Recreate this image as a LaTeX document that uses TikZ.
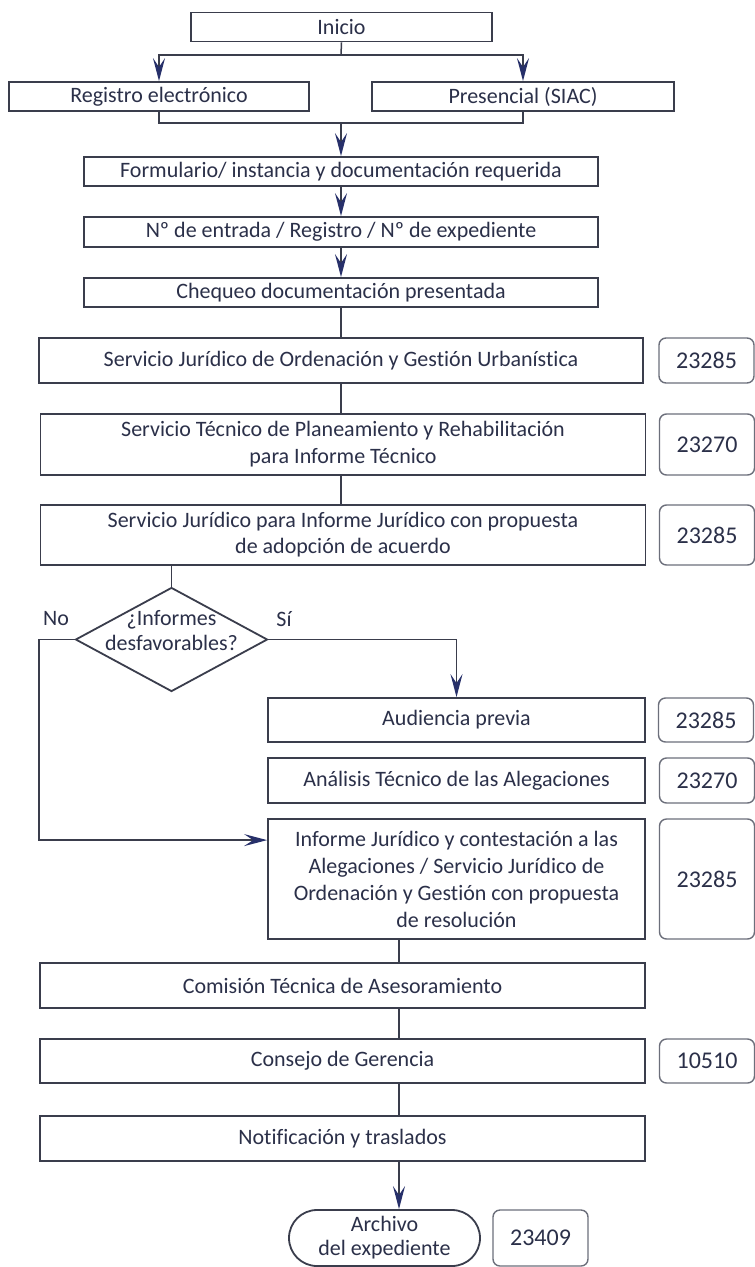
\documentclass[tikz,border=0pt]{standalone}
\usepackage{fontspec}
\setmainfont{Carlito}[Ligatures={NoCommon}]
\usetikzlibrary{arrows.meta,shapes.geometric,shapes.misc,calc}
\definecolor{ink}{HTML}{2B3049}
\definecolor{frame}{HTML}{3A3D4C}
\definecolor{tagframe}{HTML}{6C6F7B}
\definecolor{tipc}{HTML}{27306A}
\begin{document}
\begin{tikzpicture}[x=1pt,y=-1pt,
  every node/.style={font=\fontsize{22}{26}\selectfont, text=ink},
  box/.style={draw=frame, line width=1.8pt, inner sep=0pt, align=center},
  tag/.style={draw=tagframe, line width=1.4pt, rounded corners=7pt, inner sep=0pt, minimum width=95pt, font=\fontsize{24}{28}\selectfont},
  link/.style={draw=frame, line width=1.5pt},
  flow/.style={link, -{Stealth[length=23pt,width=12pt,inset=9pt,color=tipc]}},
]
\fill[white] (0,0) rectangle (755,1267);
\useasboundingbox (0,0) rectangle (755,1267);

% process boxes
\node[box, minimum width=301pt, minimum height=29pt] (inicio) at (341.5,27) {Inicio};
\node[box, minimum width=300pt, minimum height=29pt] (reg) at (159,96.5) {Registro electrónico};
\node[box, minimum width=302pt, minimum height=29pt] (pres) at (523,96.5) {Presencial (SIAC)};
\node[box, minimum width=514pt, minimum height=29pt] (form) at (341,171.5) {Formulario/ instancia y documentación requerida};
\node[box, minimum width=514pt, minimum height=30pt] (num) at (341,232) {Nº de entrada / Registro / Nº de expediente};
\node[box, minimum width=514pt, minimum height=29pt] (cheq) at (341,292.5) {Chequeo documentación presentada};
\node[box, minimum width=604pt, minimum height=45pt] (sj) at (341,360.5) {Servicio Jurídico de Ordenación y Gestión Urbanística};
\node[box, minimum width=605pt, minimum height=61pt, font=\fontsize{22}{27}\selectfont] (st) at (343,444.5) {Servicio Técnico de Planeamiento y Rehabilitación\\para Informe Técnico};
\node[box, minimum width=605pt, minimum height=60pt] (sjp) at (343,535) {Servicio Jurídico para Informe Jurídico con propuesta\\de adopción de acuerdo};
\node[box, minimum width=377pt, minimum height=44pt] (aud) at (456.5,720) {Audiencia previa};
\node[box, minimum width=377pt, minimum height=45pt] (anal) at (456.5,780.5) {Análisis Técnico de las Alegaciones};
\node[box, minimum width=377pt, minimum height=120pt, font=\fontsize{22}{27}\selectfont] (inf) at (456.5,879) {Informe Jurídico y contestación a las\\Alegaciones / Servicio Jurídico de\\Ordenación y Gestión con propuesta\\de resolución};
\node[box, minimum width=605pt, minimum height=45pt] (com) at (342.5,985.5) {Comisión Técnica de Asesoramiento};
\node[box, minimum width=605pt, minimum height=44pt] (cons) at (342.5,1061) {Consejo de Gerencia};
\node[box, minimum width=605pt, minimum height=45pt] (noti) at (342.5,1138.5) {Notificación y traslados};
\node[box, rounded rectangle, minimum width=191pt, minimum height=56pt, font=\fontsize{22}{24}\selectfont] (arch) at (384.5,1238) {Archivo\\del expediente};

% decision
\node[draw=frame, line width=1.8pt, diamond, minimum width=192pt, minimum height=104pt, inner sep=0pt] (dec) at (171.5,639.5) {};
\node[align=center, font=\fontsize{22}{25}\selectfont] (dectext) at (171.5,631) {¿Informes\\desfavorables?};
\node (no) at (56,619) {No};
\node (si) at (284,619) {Sí};

% department codes
\node[tag, minimum height=45pt] (t1) at (706.5,360.5) {23285};
\node[tag, minimum height=61pt] (t2) at (707,444.5) {23270};
\node[tag, minimum height=60pt] (t3) at (707,535) {23285};
\node[tag, minimum height=44pt] (t4) at (706,720) {23285};
\node[tag, minimum height=45pt] (t5) at (707,780.5) {23270};
\node[tag, minimum height=120pt] (t6) at (707,879) {23285};
\node[tag, minimum height=44pt] (t7) at (707,1061) {10510};
\node[tag, minimum height=56pt] (t8) at (540.5,1238) {23409};

% helper points
\coordinate (split) at (341,55);
\coordinate (merge) at (341,123);
\coordinate (spine) at (399,0);
\coordinate (noin) at ($(inf.north west)+(0,22)$);

% connectors
\draw[link] (inicio.south) -- (split);
\draw[flow] (split) -| (reg.north);
\draw[flow] (split) -| (pres.north);
\draw[link] (reg.south) |- (merge) -| (pres.south);
\draw[flow] (merge) -- (form.north);
\draw[flow] (form.south) -- (num.north);
\draw[flow] (num.south) -- (cheq.north);
\draw[link] (cheq.south) -- (cheq.south |- sj.north);
\draw[link] (sj.south) -- (sj.south |- st.north);
\draw[link] (st.south -| sj.south) -- (sj.south |- sjp.north);
\draw[link] (dec.north |- sjp.south) -- (dec.north);
\draw[flow] (dec.east) -| (aud.north);
\draw[flow] (dec.west) -- ++(-35.5,0) |- (noin);
\draw[link] (inf.south -| spine) -- (com.north -| spine);
\draw[link] (com.south -| spine) -- (cons.north -| spine);
\draw[link] (cons.south -| spine) -- (noti.north -| spine);
\draw[flow] (noti.south -| spine) -- (arch.north -| spine);
\end{tikzpicture}
\end{document}
